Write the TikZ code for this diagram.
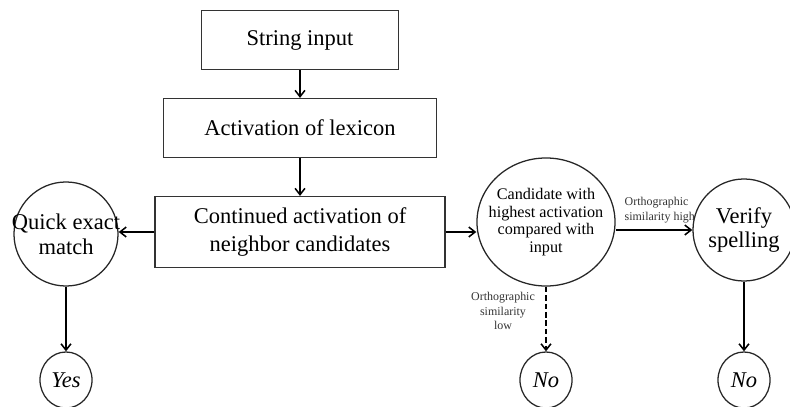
\documentclass[tikz,border=0pt]{standalone}
\usepackage{fontspec}
\setmainfont{Liberation Serif}
\usetikzlibrary{arrows.meta, positioning, shapes.geometric}
\def\midx{300}

\begin{document}
\begin{tikzpicture}[x=0.025cm,y=-0.025cm,line width=1pt,>={Straight Barb[length=4.5pt,width=7pt]}]
    \tikzstyle{stepbox}=[rectangle,draw=black!80,line width=0.8pt,minimum height=1.475cm,font=\fontsize{16}{19}\selectfont]
    \tikzstyle{roundnode}=[circle,draw=black!85,line width=0.9pt,inner sep=0pt]
    \tikzstyle{answer}=[ellipse,draw=black!85,line width=0.9pt,minimum width=1.3cm,minimum height=1.4cm,inner sep=0pt,font=\fontsize{16}{19}\selectfont\itshape]
    \tikzstyle{intext}=[align=center,font=\fontsize{16}{18}\selectfont]
    \tikzstyle{annot}=[font=\fontsize{8.5}{10.5}\selectfont,text=black!80,inner sep=0pt]
    \tikzstyle{arr}=[->,draw=black,line width=1.1pt]

    \useasboundingbox (0,0) rectangle (790,407);

    % Draw the boxes of the middle column
    \node[stepbox,minimum width=4.925cm] (str) at (\midx,40) {String input};
    \node[stepbox,minimum width=6.825cm] (act) at (\midx,128) {Activation of lexicon};
    \node[stepbox,minimum width=7.25cm,minimum height=1.775cm,align=center,font=\fontsize{16}{20}\selectfont]
        (cont) at (\midx,232) {Continued activation of\\neighbor candidates};

    % Draw the round nodes
    \node[roundnode,minimum size=2.6cm] (quick) at (66,234) {};
    \node[intext] (quick-t) at (quick) {Quick exact\\match};
    \node[roundnode,ellipse,minimum width=3.45cm,minimum height=3.2cm] (cand) at (546,222) {};
    \node[intext,font=\fontsize{11.5}{12.5}\selectfont] (cand-t) at (cand) {Candidate with\\highest activation\\compared with\\input};
    \node[roundnode,minimum size=2.55cm] (verify) at (744,230) {};
    \node[intext,font=\fontsize{16}{17}\selectfont] (verify-t) at (verify) {Verify\\spelling};

    % Draw the answers
    \node[answer] (yes) at (66,380) {Yes};
    \node[answer] (no-1) at (546,380) {No};
    \node[answer] (no-2) at (744,380) {No};

    % Connect the nodes
    \draw[arr] (str) -- (act);
    \draw[arr] (act) -- (cont);
    \draw[arr] (cont.west) -- (cont.west -| quick.east);
    \draw[arr] (cont.east) -- (cont.east -| cand.west);
    \draw[arr] (verify.west -| cand.east) -- (verify.west);
    \draw[arr] (quick) -- (yes);
    \draw[arr,dashed,dash pattern=on 4pt off 2pt] (cand) -- (no-1);
    \draw[arr] (verify) -- (no-2);

    % Labels of the edges
    \node[annot,align=left,anchor=south west] (high) at (624,224) {Orthographic\\similarity high};
    \node[annot,align=center] (low) at (503,311) {Orthographic\\similarity\\low};
\end{tikzpicture}
\end{document}
